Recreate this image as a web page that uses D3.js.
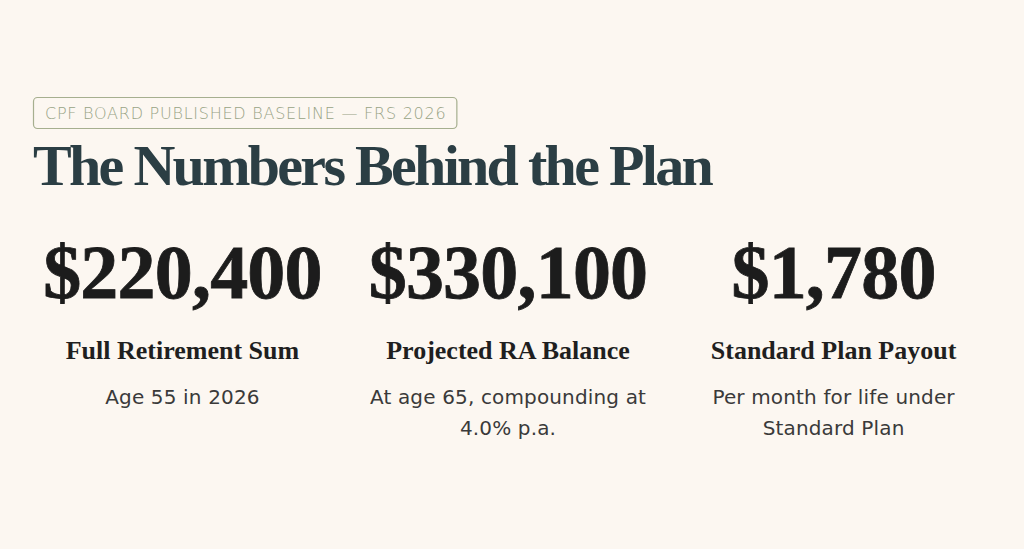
<!DOCTYPE html>
<html>
<head>
<meta charset="utf-8">
<script src="https://cdn.jsdelivr.net/npm/d3@7"></script>
<style>
  html, body { margin: 0; padding: 0; background: #fcf7f1; }
  svg { display: block; }
</style>
</head>
<body>
<script>
// ---- data ----
const badgeText = "CPF BOARD PUBLISHED BASELINE \u2014 FRS 2026";
const titleText = "The Numbers Behind the Plan";
const metricKeys = ["frs", "ra", "payout"];
const metricValues = [220400, 330100, 1780];
const metricLabels = ["Full Retirement Sum", "Projected RA Balance", "Standard Plan Payout"];
const metricNotes = [
  ["Age 55 in 2026"],
  ["At age 65, compounding at", "4.0% p.a."],
  ["Per month for life under", "Standard Plan"]
];

// ---- layout ----
const W = 1024, H = 549;
const serif = "'Liberation Serif', 'DejaVu Serif', serif";
const sans = "'DejaVu Sans', 'Noto Sans', sans-serif";
const fmt = d3.format("$,");

const svg = d3.select("body").append("svg").attr("width", W).attr("height", H);
svg.append("rect").attr("width", W).attr("height", H).attr("fill", "#fcf7f1");

// badge
const badge = svg.append("g");
const bt = badge.append("text")
  .attr("x", 45).attr("y", 119)
  .attr("font-family", sans).attr("font-size", 16).attr("font-weight", 300)
  .attr("letter-spacing", 0.75)
  .attr("fill", "#98a385")
  .text(badgeText);
const bw = bt.node().getComputedTextLength();
badge.insert("rect", "text")
  .attr("x", 33.5).attr("y", 97.5)
  .attr("width", bw + 22).attr("height", 31)
  .attr("rx", 4).attr("fill", "none")
  .attr("stroke", "#a6af8f").attr("stroke-width", 1.2);

// title
svg.append("text")
  .attr("x", 33).attr("y", 185)
  .attr("font-family", serif).attr("font-size", 58).attr("font-weight", 700)
  .attr("letter-spacing", -2.7)
  .attr("fill", "#2b3e44")
  .text(titleText);

// columns
const x = d3.scaleBand().domain(metricKeys).range([33, 983]).paddingInner(0.082).paddingOuter(0);
const cols = svg.selectAll("g.col")
  .data(metricKeys.map((k, i) => ({ k, v: metricValues[i], label: metricLabels[i], notes: metricNotes[i] })))
  .join("g").attr("class", "col")
  .attr("transform", d => `translate(${x(d.k) + x.bandwidth() / 2},0)`);

cols.append("text")
  .attr("y", 298).attr("text-anchor", "middle")
  .attr("font-family", serif).attr("font-size", 76).attr("font-weight", 700)
  .attr("letter-spacing", -0.8)
  .attr("fill", "#1c1c1c")
  .attr("stroke", "#1c1c1c").attr("stroke-width", 0.8)
  .text(d => fmt(d.v));

cols.append("text")
  .attr("y", 359).attr("text-anchor", "middle")
  .attr("font-family", serif).attr("font-size", 26).attr("font-weight", 700)
  .attr("fill", "#1f1f1f")
  .text(d => d.label);

cols.each(function(d) {
  d3.select(this).selectAll("text.note")
    .data(d.notes).join("text").attr("class", "note")
    .attr("y", (n, i) => 404 + i * 31).attr("text-anchor", "middle")
    .attr("font-family", sans).attr("font-size", 20)
    .attr("letter-spacing", 0.15)
    .attr("fill", "#3a3a3a")
    .text(n => n);
});
</script>
</body>
</html>
